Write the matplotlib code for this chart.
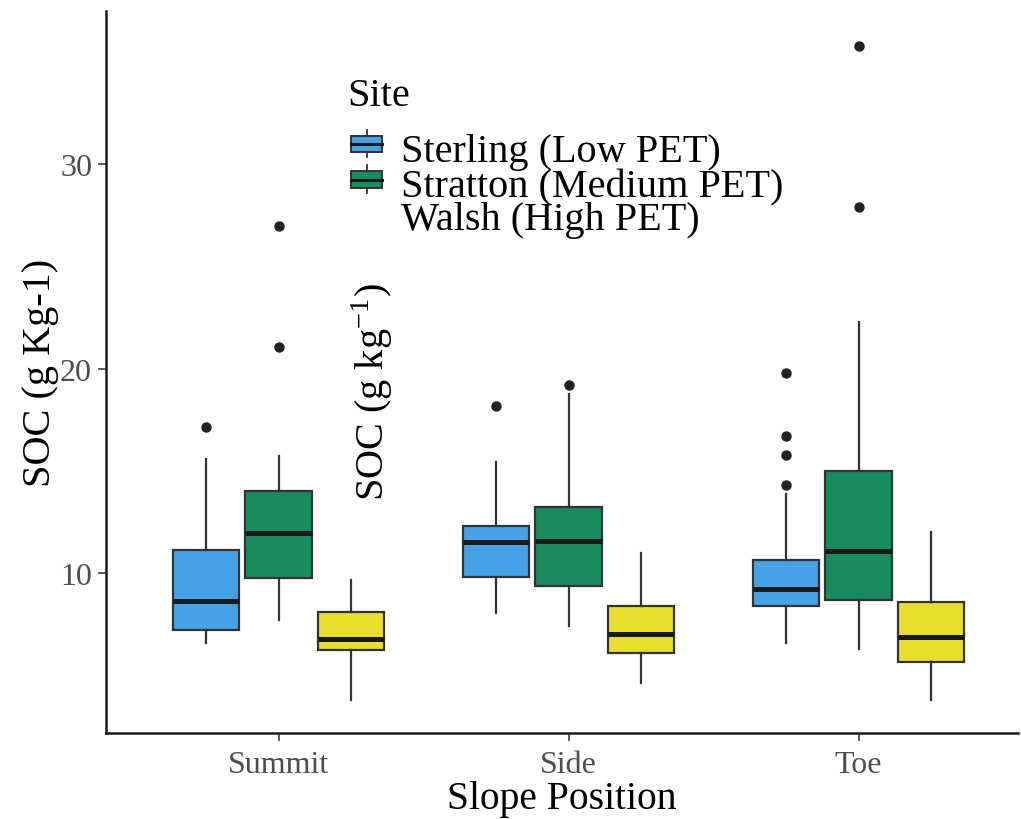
import matplotlib
matplotlib.use("Agg")
import matplotlib.pyplot as plt
from matplotlib.patches import Rectangle
from matplotlib.lines import Line2D

plt.rcParams['font.family'] = ['Liberation Serif', 'DejaVu Serif']
plt.rcParams['mathtext.fontset'] = 'stix'

# ---------------- data ----------------
categories = ['Summit', 'Side', 'Toe']
sites = ['Sterling (Low PET)', 'Stratton (Medium PET)', 'Walsh (High PET)']
site_colors = ['#46A2E6', '#188C5E', '#E8DE2C']

sterling_whislo = [6.6, 8.05, 6.6]
sterling_q1 = [7.22, 9.85, 8.39]
sterling_med = [8.63, 11.56, 9.22]
sterling_q3 = [11.17, 12.34, 10.68]
sterling_whishi = [15.6, 15.46, 13.9]
sterling_fliers = [[17.17], [18.2], [14.34, 15.8, 16.7, 19.8]]

stratton_whislo = [7.71, 7.41, 6.29]
stratton_q1 = [9.80, 9.37, 8.68]
stratton_med = [12.0, 11.61, 11.12]
stratton_q3 = [14.05, 13.27, 15.02]
stratton_whishi = [15.76, 18.78, 22.3]
stratton_fliers = [[21.07, 27.0], [19.22], [27.9, 35.8]]

walsh_whislo = [3.8, 4.63, 3.8]
walsh_q1 = [6.24, 6.10, 5.66]
walsh_med = [6.78, 7.02, 6.88]
walsh_q3 = [8.10, 8.39, 8.59]
walsh_whishi = [9.66, 10.98, 12.05]
walsh_fliers = [[], [], []]

yticks = [10, 20, 30]

series = [
    (sterling_whislo, sterling_q1, sterling_med, sterling_q3, sterling_whishi, sterling_fliers),
    (stratton_whislo, stratton_q1, stratton_med, stratton_q3, stratton_whishi, stratton_fliers),
    (walsh_whislo, walsh_q1, walsh_med, walsh_q3, walsh_whishi, walsh_fliers),
]

# ---------------- figure ----------------
W, H = 1021, 820
fig = plt.figure(figsize=(W / 100, H / 100), dpi=100)

def fx(px):
    return px / W

def fy(py):
    return 1 - py / H

ax = fig.add_axes([fx(106), fy(734), fx(1018) - fx(106), fy(12) - fy(734)])

offsets = [-0.25, 0.0, 0.25]
box_w = 0.228
edge = '#333333'
for s_idx, (wl, q1, md, q3, wh, fl) in enumerate(series):
    stats = []
    for c in range(len(categories)):
        stats.append(dict(whislo=wl[c], q1=q1[c], med=md[c], q3=q3[c],
                          whishi=wh[c], fliers=fl[c]))
    positions = [c + offsets[s_idx] for c in range(len(categories))]
    ax.bxp(stats, positions=positions, widths=box_w, patch_artist=True,
           showcaps=False, manage_ticks=False,
           boxprops=dict(facecolor=site_colors[s_idx], edgecolor=edge, linewidth=1.6),
           medianprops=dict(color='#1A1A1A', linewidth=3.6, solid_capstyle='butt'),
           whiskerprops=dict(color=edge, linewidth=1.6),
           flierprops=dict(marker='o', markerfacecolor='#222222',
                           markeredgecolor='#222222', markersize=6.5))

ax.set_xlim(-0.595, 2.55)
ax.set_ylim(2.2, 37.5)
ax.set_xticks(range(len(categories)))
ax.set_xticklabels(categories)
ax.set_yticks(yticks)
ax.tick_params(axis='both', labelsize=23, labelcolor='#4D4D4D', color='#4D4D4D',
               length=6, width=1.3)
ax.tick_params(axis='x', pad=6)
ax.tick_params(axis='y', pad=4)
for side in ['top', 'right']:
    ax.spines[side].set_visible(False)
for side in ['left', 'bottom']:
    ax.spines[side].set_linewidth(1.8)
    ax.spines[side].set_color('#1A1A1A')

ax.set_xlabel('Slope Position', fontsize=28.5, labelpad=1)
ax.set_ylabel('SOC (g Kg-1)', fontsize=29, labelpad=1)

# overlaid second axis-title text
fig.text(fx(372), fy(392), r'SOC (g kg$^{\mathregular{-1}}$)', fontsize=29, rotation=90,
         ha='center', va='center', color='black')

# ---------------- manual legend ----------------
fig.text(fx(347), fy(106), 'Site', fontsize=29, ha='left', va='baseline')
label_baselines = [162, 197, 230]
for i, lab in enumerate(sites):
    fig.text(fx(401), fy(label_baselines[i]), lab, fontsize=29, ha='left', va='baseline')

key_boxes = [(137, 153), (172, 189)]
for i, (top, bot) in enumerate(key_boxes):
    x0, x1 = 351, 382
    fig.patches.append(Rectangle((fx(x0), fy(bot)), fx(x1) - fx(x0), fy(top) - fy(bot),
                                 transform=fig.transFigure, facecolor=site_colors[i],
                                 edgecolor=edge, linewidth=1.4))
    mid = (top + bot) / 2
    fig.lines.append(Line2D([fx(x0), fx(x1)], [fy(mid), fy(mid)],
                            transform=fig.transFigure, color='#1A1A1A', linewidth=2.2))
    xc = (x0 + x1) / 2
    fig.lines.append(Line2D([fx(xc), fx(xc)], [fy(top - 6), fy(top)],
                            transform=fig.transFigure, color=edge, linewidth=1.3))
    fig.lines.append(Line2D([fx(xc), fx(xc)], [fy(bot), fy(bot + 5)],
                            transform=fig.transFigure, color=edge, linewidth=1.3))

fig.savefig('out.png', dpi=100, facecolor='white')
